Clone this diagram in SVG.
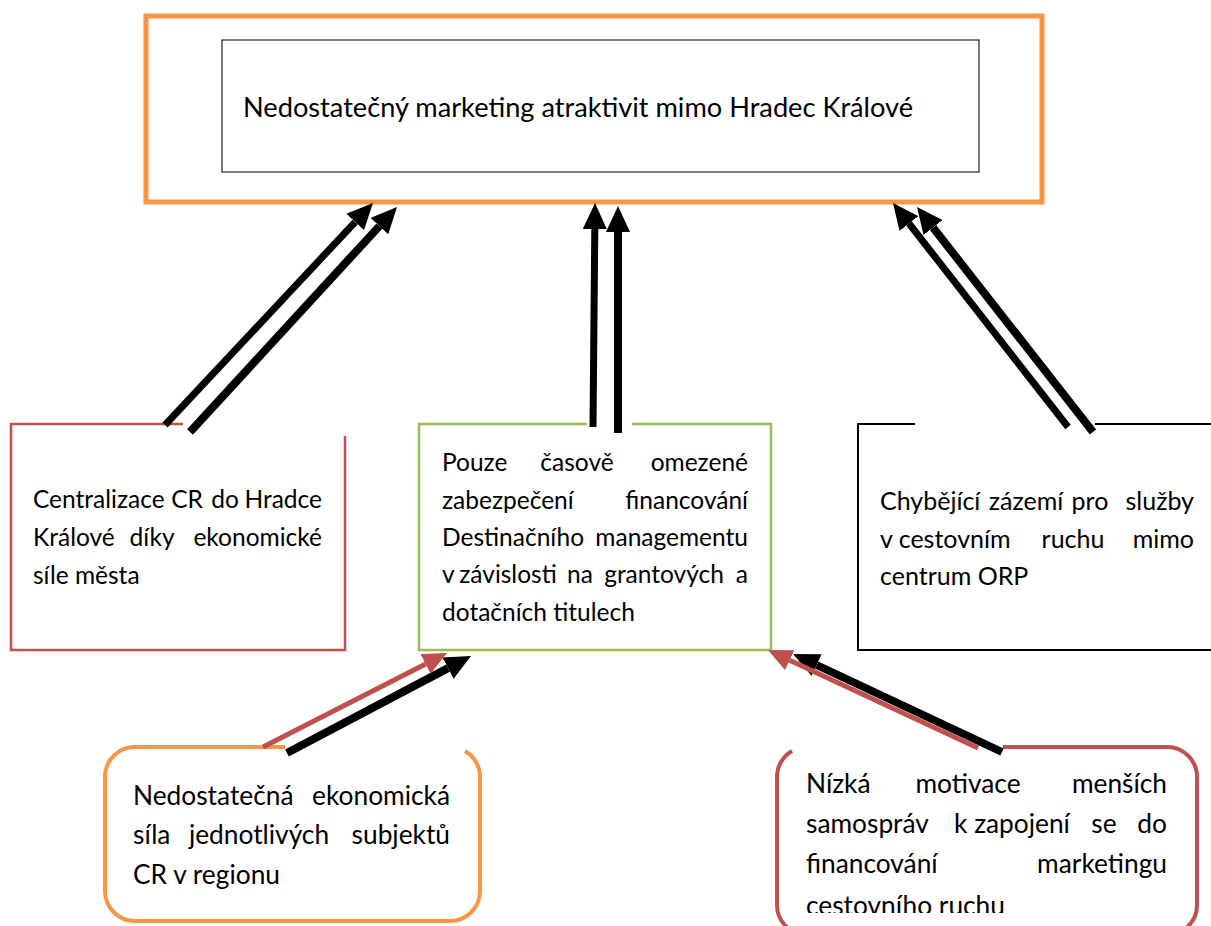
<svg xmlns="http://www.w3.org/2000/svg" width="1211" height="926" viewBox="0 0 1211 926">
<style>
.t{font-family:Lato,"Liberation Sans",sans-serif;font-size:24.5px;fill:#000}
.b{font-size:26.3px}
.r{font-size:25px}
.tt{font-family:Lato,"Liberation Sans",sans-serif;font-size:27.2px;fill:#000}
.m{text-anchor:middle}
.e{text-anchor:end}
.ar{fill:none;stroke:#000;stroke-width:7}
.arj{fill:none;stroke:#000;stroke-width:8}
.arr{fill:none;stroke:#C0504D;stroke-width:5}
</style>
<defs>
<marker id="hb" viewBox="0 0 26 24" markerWidth="26" markerHeight="24" refX="0" refY="12" orient="auto" markerUnits="userSpaceOnUse"><path d="M0,0 L26,12 L0,24 Z" fill="#000"/></marker>
<marker id="hr" viewBox="0 0 24 22" markerWidth="24" markerHeight="22" refX="0" refY="11" orient="auto" markerUnits="userSpaceOnUse"><path d="M0,0 L24,11 L0,22 Z" fill="#C0504D"/></marker>
<clipPath id="clipNR"><rect x="777" y="747" width="420" height="166"/></clipPath>
</defs>
<rect width="1211" height="926" fill="#fff"/>

<g id="node-top">
<rect x="146" y="16" width="896" height="186" fill="none" stroke="#F79646" stroke-width="5"/>
<rect x="222" y="40" width="757" height="132" fill="none" stroke="#333" stroke-width="1.3"/>
<text class="tt" x="243" y="117">Nedostatečný marketing atraktivit mimo Hradec Králové</text>
</g>

<g id="node-left">
<path d="M183,424 H11 V650 H345 V436" fill="none" stroke="#C0504D" stroke-width="2.5"/>
<text class="t" x="33" y="508">Centralizace</text>
<text class="t m" x="187" y="508">CR</text>
<text class="t m" x="225" y="508">do</text>
<text class="t e" x="322" y="508">Hradce</text>
<text class="t" x="33" y="546">Králové</text>
<text class="t m" x="152" y="546">díky</text>
<text class="t e" x="322" y="546">ekonomické</text>
<text class="t" x="33" y="584">síle města</text>
</g>

<g id="node-middle">
<path d="M587,424 H419 V650 H771 V424 H632" fill="none" stroke="#9BBB59" stroke-width="2.5"/>
<text class="t" x="442" y="471">Pouze</text>
<text class="t m" x="577" y="471">časově</text>
<text class="t e" x="748" y="471">omezené</text>
<text class="t" x="442" y="509">zabezpečení</text>
<text class="t e" x="748" y="509">financování</text>
<text class="t" x="442" y="546">Destinačního</text>
<text class="t e" x="748" y="546">managementu</text>
<text class="t" x="442" y="583">v</text>
<text class="t m" x="508" y="583">závislosti</text>
<text class="t m" x="580" y="583">na</text>
<text class="t m" x="664" y="583">grantových</text>
<text class="t e" x="748" y="583">a</text>
<text class="t" x="442" y="621">dotačních titulech</text>
</g>

<g id="node-right">
<path d="M915,424 H858 V650 H1215 M1095,424 H1215" fill="none" stroke="#000" stroke-width="2"/>
<text class="t r" x="880" y="510">Chybějící</text>
<text class="t r m" x="1026" y="510">zázemí</text>
<text class="t r m" x="1090" y="510">pro</text>
<text class="t r e" x="1194" y="510">služby</text>
<text class="t r" x="880" y="548">v cestovním</text>
<text class="t r m" x="1073" y="548">ruchu</text>
<text class="t r e" x="1194" y="548">mimo</text>
<text class="t r" x="880" y="585">centrum ORP</text>
</g>

<g id="node-bottom-left">
<path d="M285,747 H135 A30,30 0 0 0 105,777 V891 A30,30 0 0 0 135,921 H450 A30,30 0 0 0 480,891 V777 A30,30 0 0 0 465,751" fill="none" stroke="#F79646" stroke-width="4"/>
<text class="t b" x="133" y="805">Nedostatečná</text>
<text class="t b e" x="450" y="805">ekonomická</text>
<text class="t b" x="133" y="844">síla</text>
<text class="t b m" x="259" y="844">jednotlivých</text>
<text class="t b e" x="450" y="844">subjektů</text>
<text class="t b" x="133" y="884">CR v regionu</text>
</g>

<g id="node-bottom-right">
<path d="M1003,747 H1167 A30,30 0 0 1 1197,777 V905 A30,30 0 0 1 1167,935 H807 A30,30 0 0 1 777,905 V777 A30,30 0 0 1 792,751" fill="none" stroke="#C0504D" stroke-width="4"/>
<g clip-path="url(#clipNR)">
<text class="t b" x="806" y="793">Nízká</text>
<text class="t b m" x="968" y="793">motivace</text>
<text class="t b e" x="1167" y="793">menších</text>
<text class="t b" x="806" y="833">samospráv</text>
<text class="t b m" x="1012" y="833">k zapojení</text>
<text class="t b m" x="1104" y="833">se</text>
<text class="t b e" x="1167" y="833">do</text>
<text class="t b" x="806" y="873">financování</text>
<text class="t b e" x="1167" y="873">marketingu</text>
<text class="t b" x="806" y="915">cestovního ruchu</text>
</g>
</g>

<g id="connectors">
<line class="ar" x1="165" y1="425" x2="355.2" y2="222" marker-end="url(#hb)"/>
<line class="arj" x1="190" y1="432" x2="379.4" y2="226.1" marker-end="url(#hb)"/>
<line class="ar" x1="593" y1="427" x2="594.8" y2="229" marker-end="url(#hb)"/>
<line class="arj" x1="618" y1="433" x2="618" y2="232" stroke-width="10" marker-end="url(#hb)"/>
<line class="ar" x1="1068" y1="427" x2="909" y2="223.5" marker-end="url(#hb)"/>
<line class="arj" x1="1093" y1="432" x2="933" y2="227.5" marker-end="url(#hb)"/>
<line class="arj" x1="287" y1="753" x2="448" y2="668.1" marker-end="url(#hb)"/>
<line class="arr" x1="263" y1="747" x2="425.6" y2="663.9" marker-end="url(#hr)"/>
<line class="arj" x1="1002" y1="752" x2="816.6" y2="665" marker-end="url(#hb)"/>
<line class="arr" x1="978" y1="748" x2="789.7" y2="660.2" marker-end="url(#hr)"/>
</g>
</svg>
